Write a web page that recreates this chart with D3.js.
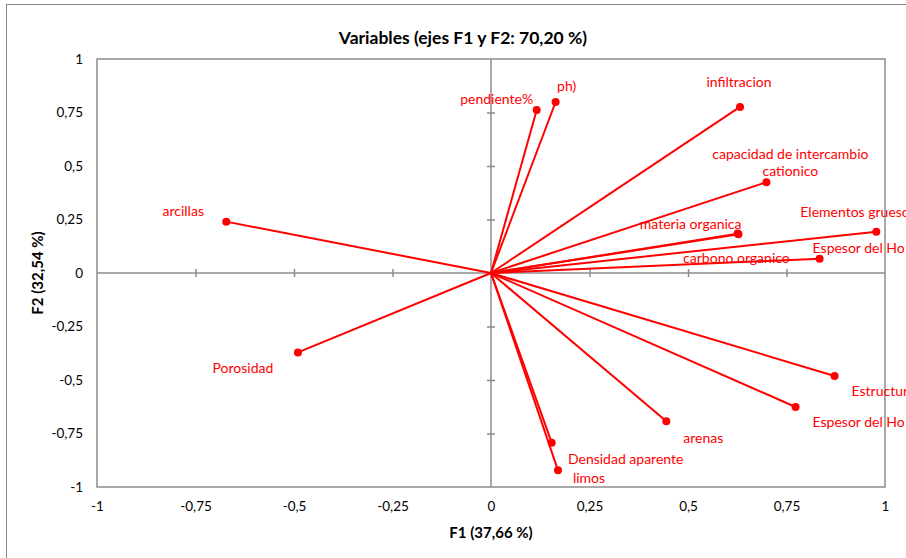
<!DOCTYPE html>
<html>
<head>
<meta charset="utf-8">
<script src="https://cdn.jsdelivr.net/npm/d3@7"></script>
<style>
	body { margin: 0; background: #fff; }
	svg { font-family: Lato, "Open Sans", sans-serif; }
	.tick-label text { font-size: 13.5px; fill: #000; }
	.var-label { font-size: 14px; fill: #ff0000; }
</style>
</head>
<body>
<svg width="906" height="558"></svg>
<script>
// variable names, F1 / F2 loadings
const varNames = [
	"pendiente%", "ph)", "infiltracion", "capacidad de intercambio\ncationico",
	"materia organica", "carbono organico", "Elementos gruesos", "Espesor del Ho",
	"arcillas", "Porosidad", "Estructura", "Espesor del Ho A", "arenas",
	"Densidad aparente", "limos"
]
const f1 = [0.116, 0.164, 0.632, 0.699, 0.626, 0.628, 0.978, 0.834, -0.672, -0.490, 0.872, 0.773, 0.445, 0.154, 0.170]
const f2 = [0.762, 0.799, 0.776, 0.424, 0.184, 0.181, 0.193, 0.067, 0.240, -0.371, -0.481, -0.626, -0.693, -0.793, -0.922]
const tickValues = [-1, -0.75, -0.5, -0.25, 0, 0.25, 0.5, 0.75, 1]

// label placement (anchor, dx, dy in px from the point) - layout only
const labelPos = [
	["middle", -40, -12], ["middle", 11, -17], ["middle", -1, -26], ["middle", 24, -29],
	["middle", -47, -11], ["middle", -2, 23], ["start", -76, -21], ["start", -7, -12],
	["middle", -43, -12], ["middle", -55, 15], ["start", 17, 14], ["start", 17, 14],
	["middle", 37, 16], ["middle", 74, 15], ["middle", 31, 7]
]

var svg = d3.select("svg"),
	plot = { left: 97, right: 885, top: 59, bottom: 487 }

var fmt = function(d) { return String(d).replace(".", ",") }

var x = d3.scaleLinear().domain([-1, 1]).range([plot.left, plot.right])
var y = d3.scaleLinear().domain([-1, 1]).range([plot.bottom, plot.top])

// chart frame
svg.append("rect")
	.attr("x", 6.5).attr("y", 4.5)
	.attr("width", 930).attr("height", 600)
	.attr("fill", "none").attr("stroke", "#868686").attr("stroke-width", 1)

// title
svg.append("text")
	.attr("x", 463).attr("y", 37)
	.attr("text-anchor", "middle").attr("dominant-baseline", "central")
	.style("font-size", "17.5px").style("font-weight", "bold")
	.text("Variables (ejes F1 y F2: 70,20 %)")

// plot area border
svg.append("rect")
	.attr("x", plot.left).attr("y", plot.top)
	.attr("width", plot.right - plot.left).attr("height", plot.bottom - plot.top)
	.attr("fill", "none").attr("stroke", "#8c8c8c").attr("stroke-width", 1.5)

// tick labels on the plot edges
var xLab = svg.append("g")
	.attr("class", "tick-label")
	.attr("transform", "translate(0," + plot.bottom + ")")
	.call(d3.axisBottom(x).tickValues(tickValues).tickFormat(fmt).tickSize(0).tickPadding(14))
xLab.select(".domain").remove()
xLab.attr("font-family", null).attr("font-size", null)

var yLab = svg.append("g")
	.attr("class", "tick-label")
	.attr("transform", "translate(" + plot.left + ",0)")
	.call(d3.axisLeft(y).tickValues(tickValues).tickFormat(fmt).tickSize(0).tickPadding(14))
yLab.select(".domain").remove()
yLab.attr("font-family", null).attr("font-size", null)

// centre axes with crossing ticks
var inner = tickValues.filter(function(d) { return d > -1 && d < 1 && d !== 0 })
var xc = svg.append("g")
	.attr("transform", "translate(0," + (y(0) - 4) + ")")
	.call(d3.axisBottom(x).tickValues(inner).tickFormat("").tickSize(8))
var yc = svg.append("g")
	.attr("transform", "translate(" + (x(0) - 4) + ",0)")
	.call(d3.axisRight(y).tickValues(inner).tickFormat("").tickSize(8))
;[xc, yc].forEach(function(a) {
	a.select(".domain").remove()
	a.selectAll("line").attr("stroke", "#8c8c8c").attr("stroke-width", 1.5)
})
svg.append("line")
	.attr("x1", x(-1)).attr("x2", x(1)).attr("y1", y(0)).attr("y2", y(0))
	.attr("stroke", "#8c8c8c").attr("stroke-width", 1.5)
svg.append("line")
	.attr("x1", x(0)).attr("x2", x(0)).attr("y1", y(-1)).attr("y2", y(1))
	.attr("stroke", "#8c8c8c").attr("stroke-width", 1.5)

// axis titles
svg.append("text")
	.attr("x", x(0)).attr("y", 532)
	.attr("text-anchor", "middle").attr("dominant-baseline", "central")
	.style("font-size", "15px").style("font-weight", "bold")
	.text("F1 (37,66 %)")
svg.append("text")
	.attr("transform", "translate(37," + y(0) + ") rotate(-90)")
	.attr("text-anchor", "middle").attr("dominant-baseline", "central")
	.style("font-size", "15px").style("font-weight", "bold")
	.text("F2 (32,54 %)")

var vars = varNames.map(function(n, i) {
	return { name: n, f1: f1[i], f2: f2[i], pos: labelPos[i] }
})

// vectors
svg.append("g").selectAll("line")
	.data(vars).enter()
	.append("line")
	.attr("x1", x(0)).attr("y1", y(0))
	.attr("x2", function(d) { return x(d.f1) })
	.attr("y2", function(d) { return y(d.f2) })
	.attr("stroke", "#ff0000").attr("stroke-width", 2)

svg.append("g").selectAll("circle")
	.data(vars).enter()
	.append("circle")
	.attr("cx", function(d) { return x(d.f1) })
	.attr("cy", function(d) { return y(d.f2) })
	.attr("r", 4)
	.attr("fill", "#ff0000")

var labels = svg.append("g").selectAll("text")
	.data(vars).enter()
	.append("text")
	.attr("class", "var-label")
	.attr("text-anchor", function(d) { return d.pos[0] })
	.attr("dominant-baseline", "central")
	.attr("x", function(d) { return x(d.f1) + d.pos[1] })
	.attr("y", function(d) { return y(d.f2) + d.pos[2] })

labels.each(function(d) {
	var t = d3.select(this)
	d.name.split("\n").forEach(function(line, k) {
		t.append("tspan")
		 .attr("x", x(d.f1) + d.pos[1])
		 .attr("dy", k === 0 ? 0 : 17)
		 .text(line)
	})
})
</script>
</body>
</html>
